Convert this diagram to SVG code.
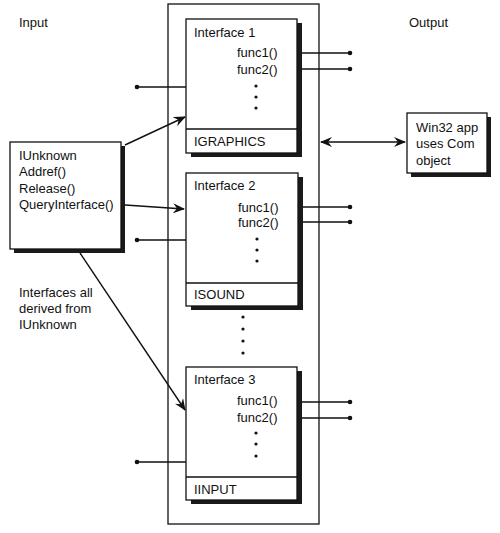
<svg xmlns="http://www.w3.org/2000/svg" width="500" height="533" viewBox="0 0 500 533">
<style>
text{font-family:"Liberation Sans",Arial,sans-serif;font-size:13px;fill:#111}
.box{fill:#fff;stroke:#111;stroke-width:1.3}
.sh{fill:#1a1a1a}
.ln{stroke:#111;stroke-width:1.4;fill:none}
.dot{fill:#111}
</style>
<defs>
<marker id="ah" viewBox="0 0 12 10" refX="11" refY="5" markerWidth="12" markerHeight="10" markerUnits="userSpaceOnUse" orient="auto-start-reverse">
<path d="M0,0 L12,5 L0,10 L4,5 Z" fill="#111"/>
</marker>
</defs>
<rect width="500" height="533" fill="#fff"/>
<text x="19" y="27">Input</text>
<text x="409" y="27">Output</text>
<g id="container">
<rect x="168" y="4" width="151" height="520" fill="none" stroke="#111" stroke-width="1.3"/>
<circle class="dot" cx="243" cy="317" r="1.6"/>
<circle class="dot" cx="243" cy="329" r="1.6"/>
<circle class="dot" cx="243" cy="341" r="1.6"/>
<circle class="dot" cx="243" cy="353" r="1.6"/>
</g>
<g id="connectors">
<line class="ln" x1="302" y1="53" x2="350" y2="53"/><circle class="dot" cx="350" cy="53" r="2.3"/>
<line class="ln" x1="302" y1="69" x2="350" y2="69"/><circle class="dot" cx="350" cy="69" r="2.3"/>
<line class="ln" x1="137" y1="87" x2="186" y2="87"/><circle class="dot" cx="137" cy="87" r="2.3"/>
<line class="ln" x1="303" y1="207" x2="350" y2="207"/><circle class="dot" cx="350" cy="207" r="2.3"/>
<line class="ln" x1="303" y1="222" x2="350" y2="222"/><circle class="dot" cx="350" cy="222" r="2.3"/>
<line class="ln" x1="137" y1="240" x2="186" y2="240"/><circle class="dot" cx="137" cy="240" r="2.3"/>
<line class="ln" x1="302" y1="402" x2="350" y2="402"/><circle class="dot" cx="350" cy="402" r="2.3"/>
<line class="ln" x1="302" y1="418" x2="350" y2="418"/><circle class="dot" cx="350" cy="418" r="2.3"/>
<line class="ln" x1="137" y1="462" x2="186" y2="462"/><circle class="dot" cx="137" cy="462" r="2.3"/>
<line class="ln" x1="125" y1="145" x2="185" y2="117" marker-end="url(#ah)"/>
<line class="ln" x1="125" y1="205" x2="184" y2="209" marker-end="url(#ah)"/>
<line class="ln" x1="80" y1="253" x2="185" y2="410" marker-end="url(#ah)"/>
<line class="ln" x1="321" y1="142" x2="405" y2="142" marker-start="url(#ah)" marker-end="url(#ah)"/>
</g>
<g id="iunknown">
<rect class="sh" x="14" y="146" width="111" height="107"/>
<rect class="box" x="10" y="142" width="111" height="107"/>
<text x="19" y="160">IUnknown</text>
<text x="19" y="176">Addref()</text>
<text x="19" y="193">Release()</text>
<text x="19" y="209">QueryInterface()</text>
</g>
<text x="19" y="297">Interfaces all</text>
<text x="19" y="313">derived from</text>
<text x="19" y="329">IUnknown</text>
<g id="interface1">
<rect class="sh" x="191" y="23" width="111" height="134"/>
<rect class="box" x="186" y="19" width="111" height="134"/>
<line class="ln" x1="186" y1="129" x2="297" y2="129"/>
<text x="194" y="37">Interface 1</text>
<text x="237" y="57">func1()</text>
<text x="237" y="74">func2()</text>
<circle class="dot" cx="256" cy="86" r="1.6"/>
<circle class="dot" cx="256" cy="97" r="1.6"/>
<circle class="dot" cx="256" cy="108" r="1.6"/>
<text x="194" y="146">IGRAPHICS</text>
</g>
<g id="interface2">
<rect class="sh" x="191" y="177" width="112" height="133"/>
<rect class="box" x="186" y="173" width="112" height="133"/>
<line class="ln" x1="186" y1="283" x2="298" y2="283"/>
<text x="194" y="190">Interface 2</text>
<text x="238" y="212">func1()</text>
<text x="238" y="227">func2()</text>
<circle class="dot" cx="257" cy="239" r="1.6"/>
<circle class="dot" cx="257" cy="250" r="1.6"/>
<circle class="dot" cx="257" cy="261" r="1.6"/>
<text x="194" y="299">ISOUND</text>
</g>
<g id="interface3">
<rect class="sh" x="191" y="371" width="111" height="133"/>
<rect class="box" x="186" y="367" width="111" height="133"/>
<line class="ln" x1="186" y1="477" x2="297" y2="477"/>
<text x="194" y="384">Interface 3</text>
<text x="237" y="405">func1()</text>
<text x="237" y="422">func2()</text>
<circle class="dot" cx="256" cy="433" r="1.6"/>
<circle class="dot" cx="256" cy="444" r="1.6"/>
<circle class="dot" cx="256" cy="456" r="1.6"/>
<text x="194" y="494">IINPUT</text>
</g>
<g id="win32">
<rect class="sh" x="411" y="117" width="80" height="60"/>
<rect class="box" x="407" y="113" width="80" height="60"/>
<text x="416" y="132">Win32 app</text>
<text x="416" y="148">uses Com</text>
<text x="416" y="165">object</text>
</g>
</svg>
